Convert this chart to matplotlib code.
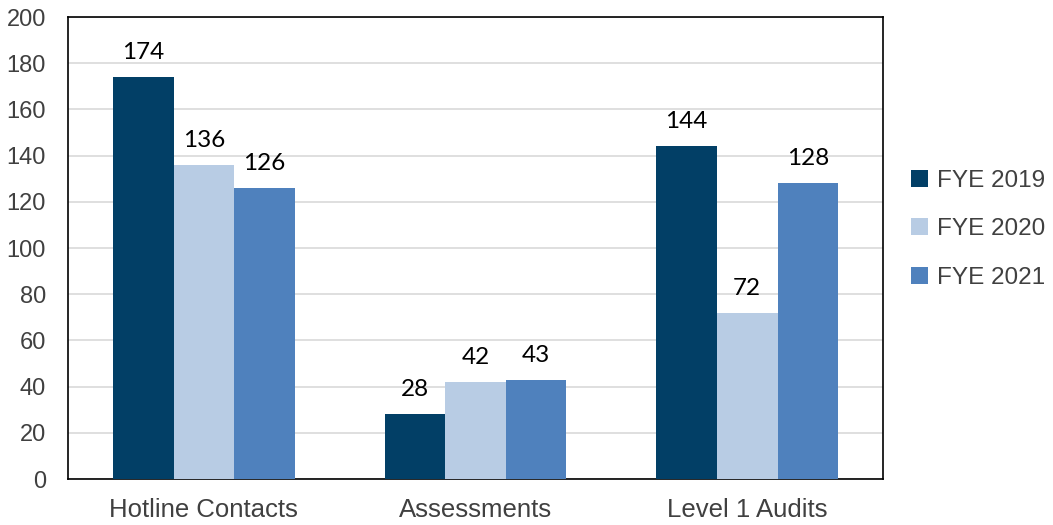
import matplotlib
matplotlib.use("Agg")
import matplotlib.pyplot as plt
import numpy as np

categories = ["Hotline Contacts", "Assessments", "Level 1 Audits"]
series = ["FYE 2019", "FYE 2020", "FYE 2021"]
fye2019 = [174, 28, 144]
fye2020 = [136, 42, 72]
fye2021 = [126, 43, 128]
colors = ["#023f66", "#b8cce4", "#4f81bd"]

fig = plt.figure(figsize=(10.53, 5.25), dpi=100)
ax = fig.add_axes([0.0646, 0.0876, 0.774, 0.880])

x = np.arange(len(categories))
w = 0.223
for i, (name, vals) in enumerate(zip(series, [fye2019, fye2020, fye2021])):
    bars = ax.bar(x + (i - 1) * w, vals, w, color=colors[i], label=name, zorder=3)
    for b, v in zip(bars, vals):
        ax.annotate(str(v), (b.get_x() + b.get_width() / 2, v),
                    xytext=(0, 10), textcoords="offset points",
                    ha="center", va="bottom", fontsize=17.5,
                    family=["Lato", "DejaVu Sans"], color="black")

ax.set_xlim(-0.5, 2.5)
ax.set_ylim(0, 200)
ax.set_yticks(range(0, 201, 20))
ax.yaxis.grid(True, color="#d9d9d9", linewidth=1.2, zorder=0)
ax.set_axisbelow(True)
ax.set_xticks(x)
ax.set_xticklabels(categories)
ax.tick_params(length=0, labelcolor="#404040")
ax.tick_params(axis="x", labelsize=18.5, pad=14)
ax.tick_params(axis="y", labelsize=17, pad=16)
for lab in ax.get_xticklabels() + ax.get_yticklabels():
    lab.set_family("Liberation Sans")
for s in ax.spines.values():
    s.set_color("black")
    s.set_linewidth(1.2)

leg = fig.legend(loc="center left", bbox_to_anchor=(0.844, 0.563), frameon=False,
                 prop={"family": "Liberation Sans", "size": 17.5},
                 handlelength=0.7, handleheight=0.7, handletextpad=0.4, labelspacing=1.1)
for t in leg.get_texts():
    t.set_color("#404040")

fig.savefig("out.png", dpi=100)
